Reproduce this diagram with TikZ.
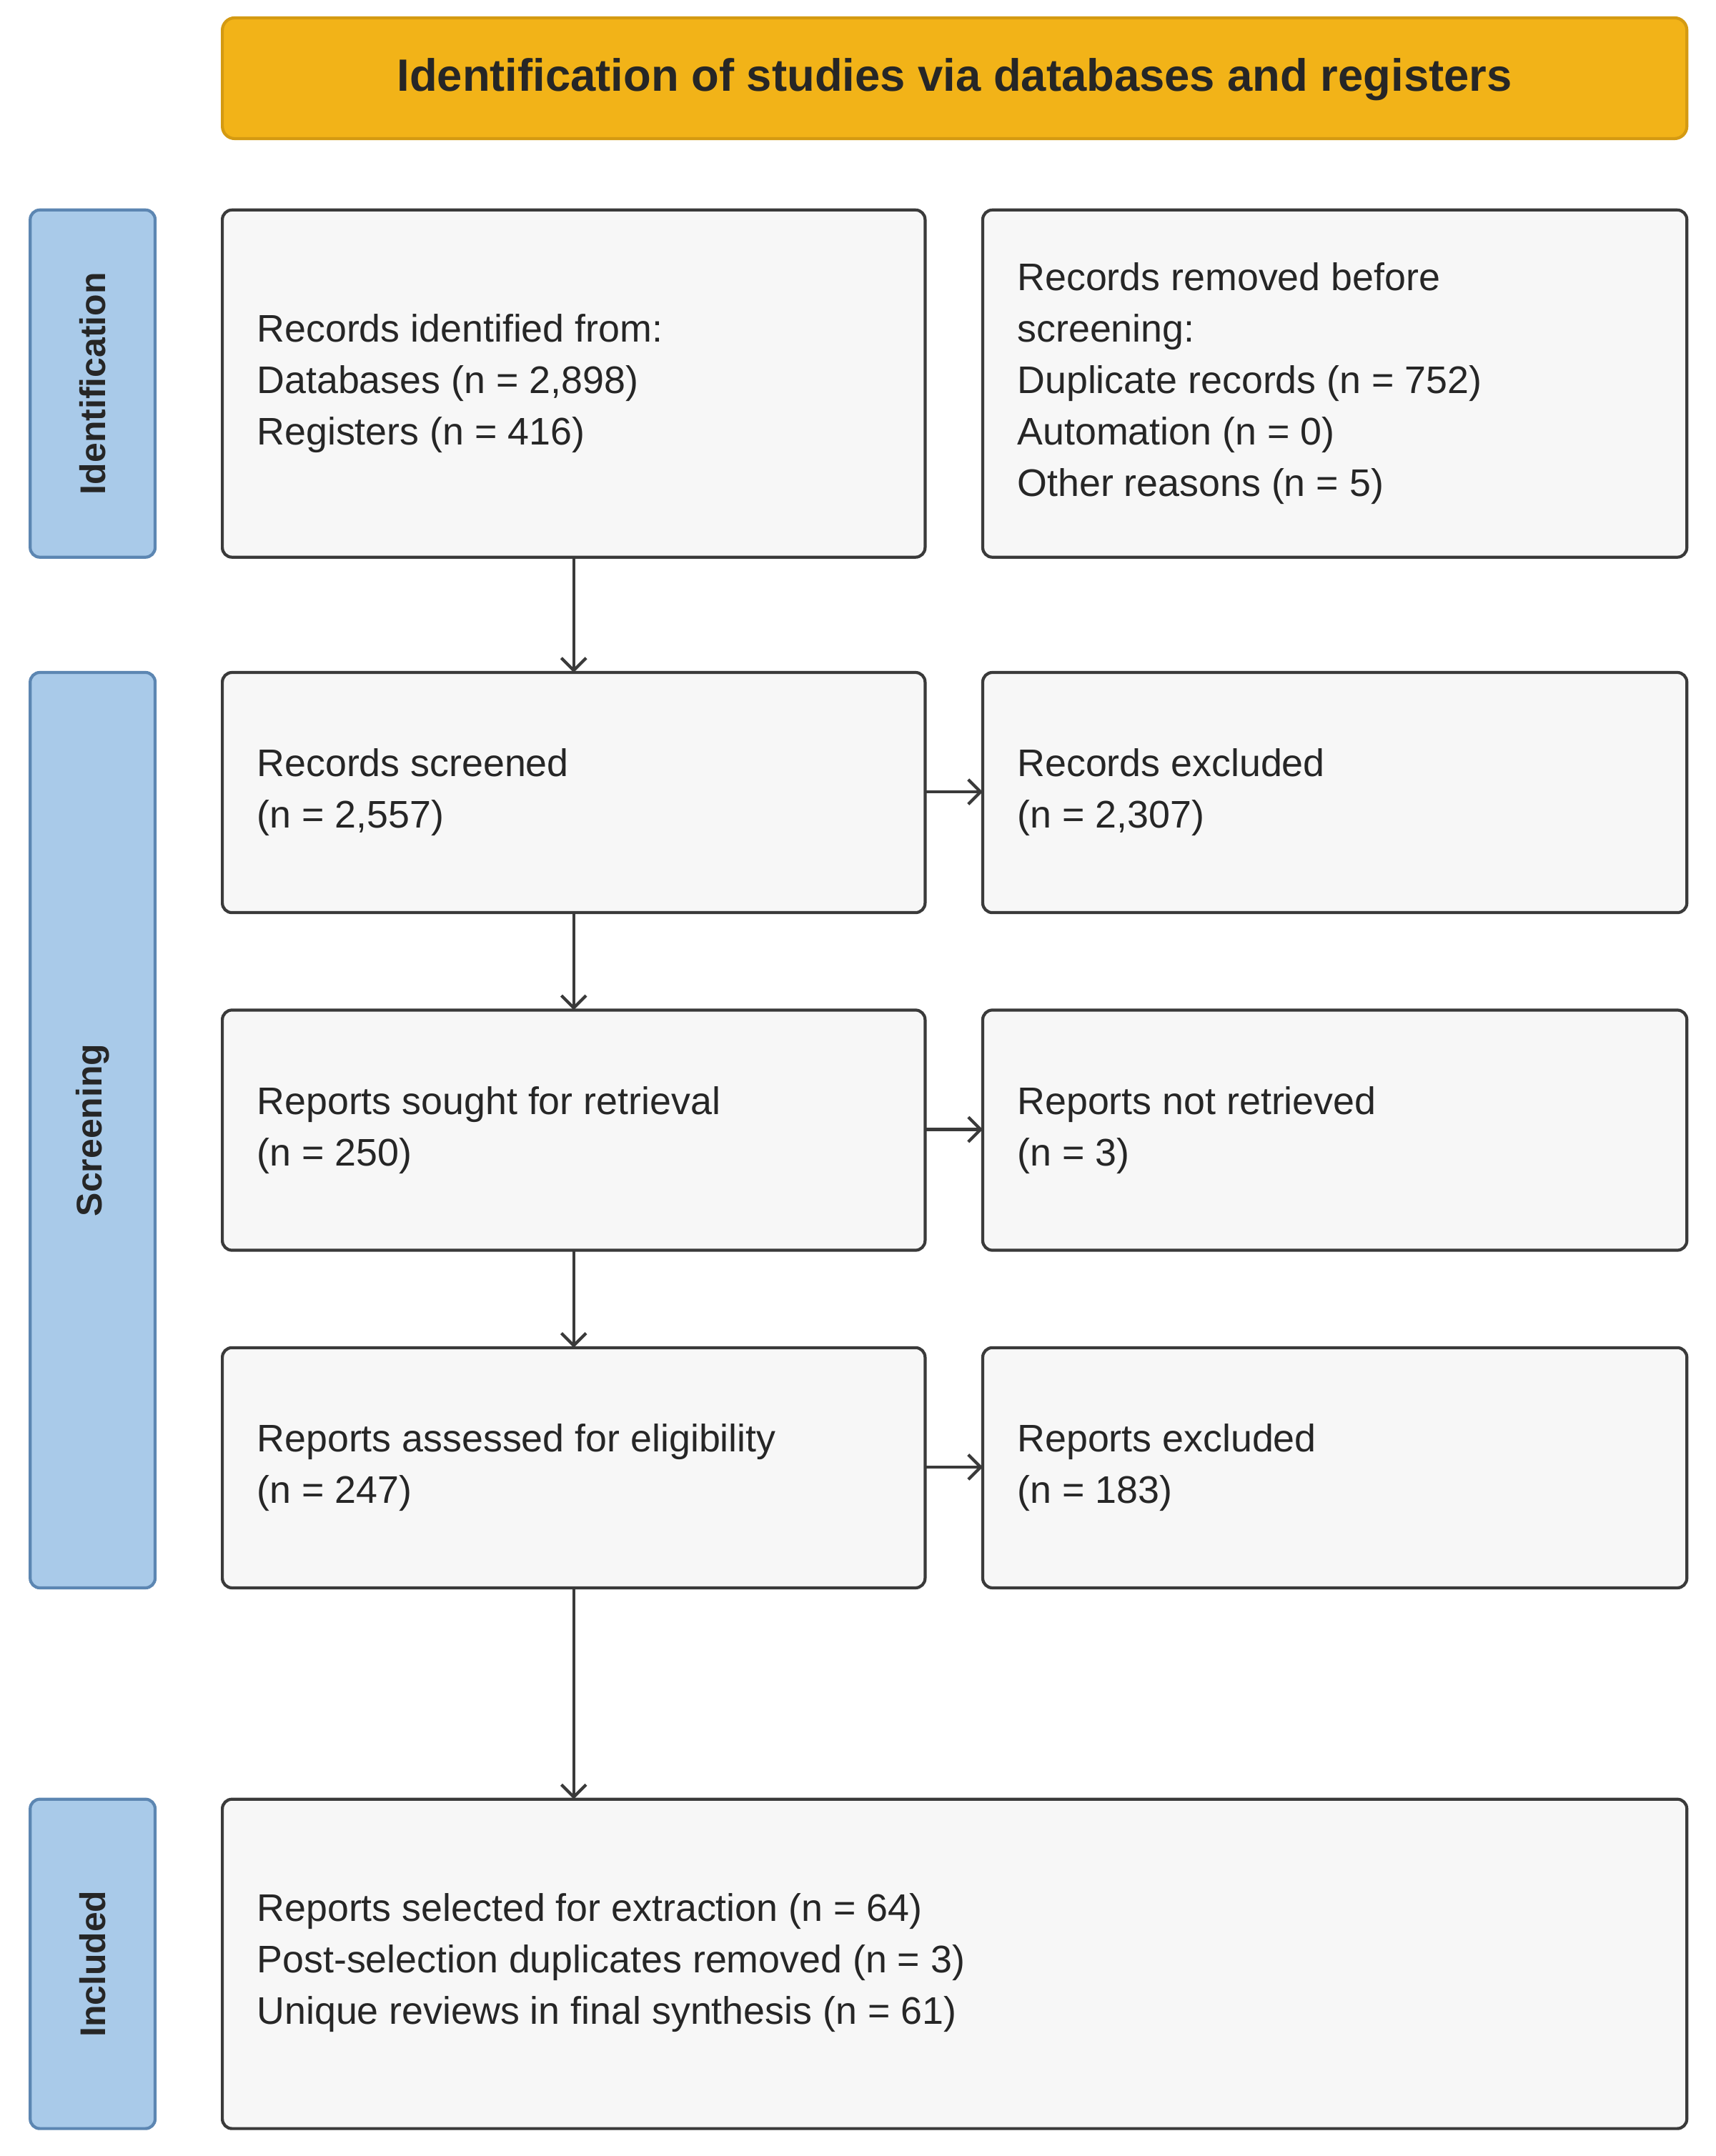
\documentclass[tikz,border=0pt]{standalone}
\usepackage{fontspec}
\setmainfont{Liberation Sans}
\usetikzlibrary{arrows.meta}
\definecolor{boxfill}{HTML}{F7F7F7}
\definecolor{boxline}{HTML}{3A3A3A}
\definecolor{titlefill}{HTML}{F2B318}
\definecolor{titleline}{HTML}{D49A12}
\definecolor{sidefill}{HTML}{A9CAE9}
\definecolor{sideline}{HTML}{5C86B2}
\begin{document}
\begin{tikzpicture}[x=1pt,y=-1pt,
  box/.style={draw=boxline,fill=boxfill,line width=2.2pt,rounded corners=7pt},
  side/.style={draw=sideline,fill=sidefill,line width=2.2pt,rounded corners=7pt},
  txt/.style={anchor=west,align=left,font=\fontsize{28}{37.5}\selectfont,text=black!85,inner sep=0pt},
  stxt/.style={rotate=90,font=\bfseries\fontsize{26}{30}\selectfont,text=black!85},
  arr/.style={draw=boxline,line width=2.2pt,-{Straight Barb[length=9pt,width=18pt,line width=2.2pt]}}]
\useasboundingbox (0,0) rectangle (1250,1571);
\fill[white] (0,0) rectangle (1250,1571);
% title
\draw[draw=titleline,fill=titlefill,line width=2.2pt,rounded corners=9pt] (162,13) rectangle (1229,101);
\node[font=\bfseries\fontsize{33}{38}\selectfont,text=black!85] (title) at (695.5,58) {Identification of studies via databases and registers};
% side
\draw[side] (22,153) rectangle (113,406);
\node[stxt] (s1) at (67.5,279.5) {Identification};
\draw[side] (22,490) rectangle (113,1157);
\node[stxt] (s2) at (67.5,823.5) {Screening};
\draw[side] (22,1311) rectangle (113,1551);
\node[stxt] (s3) at (67.5,1431) {Included};
% boxes
\draw[box] (162,153) rectangle (674,406);
\draw[box] (716,153) rectangle (1229,406);
\draw[box] (162,490) rectangle (674,665);
\draw[box] (716,490) rectangle (1229,665);
\draw[box] (162,736) rectangle (674,911);
\draw[box] (716,736) rectangle (1229,911);
\draw[box] (162,982) rectangle (674,1157);
\draw[box] (716,982) rectangle (1229,1157);
\draw[box] (162,1311) rectangle (1229,1551);
\coordinate (a1) at (418,406); \coordinate (b1) at (418,490);
\coordinate (a2) at (418,665); \coordinate (b2) at (418,736);
\coordinate (a3) at (418,911); \coordinate (b3) at (418,982);
\coordinate (a4) at (418,1157); \coordinate (b4) at (418,1311);
\coordinate (h1a) at (674,577); \coordinate (h1b) at (716,577);
\coordinate (h2a) at (674,823); \coordinate (h2b) at (716,823);
\coordinate (h3a) at (674,1069); \coordinate (h3b) at (716,1069);
\draw[arr] (a1) -- (b1); \draw[arr] (a2) -- (b2); \draw[arr] (a3) -- (b3); \draw[arr] (a4) -- (b4);
\draw[arr] (h1a) -- (h1b); \draw[arr] (h2a) -- (h2b); \draw[arr] (h3a) -- (h3b);
% texts
\node[txt] (t1) at (187,279.5) {Records identified from:\\Databases (n = 2,898)\\Registers (n = 416)};
\node[txt] (t2) at (741,279.5) {Records removed before\\screening:\\Duplicate records (n = 752)\\Automation (n = 0)\\Other reasons (n = 5)};
\node[txt] (t3) at (187,577.5) {Records screened\\(n = 2,557)};
\node[txt] (t4) at (741,577.5) {Records excluded\\(n = 2,307)};
\node[txt] (t5) at (187,823.5) {Reports sought for retrieval\\(n = 250)};
\node[txt] (t6) at (741,823.5) {Reports not retrieved\\(n = 3)};
\node[txt] (t7) at (187,1069.5) {Reports assessed for eligibility\\(n = 247)};
\node[txt] (t8) at (741,1069.5) {Reports excluded\\(n = 183)};
\node[txt] (t9) at (187,1430) {Reports selected for extraction (n = 64)\\Post-selection duplicates removed (n = 3)\\Unique reviews in final synthesis (n = 61)};
\end{tikzpicture}
\end{document}
